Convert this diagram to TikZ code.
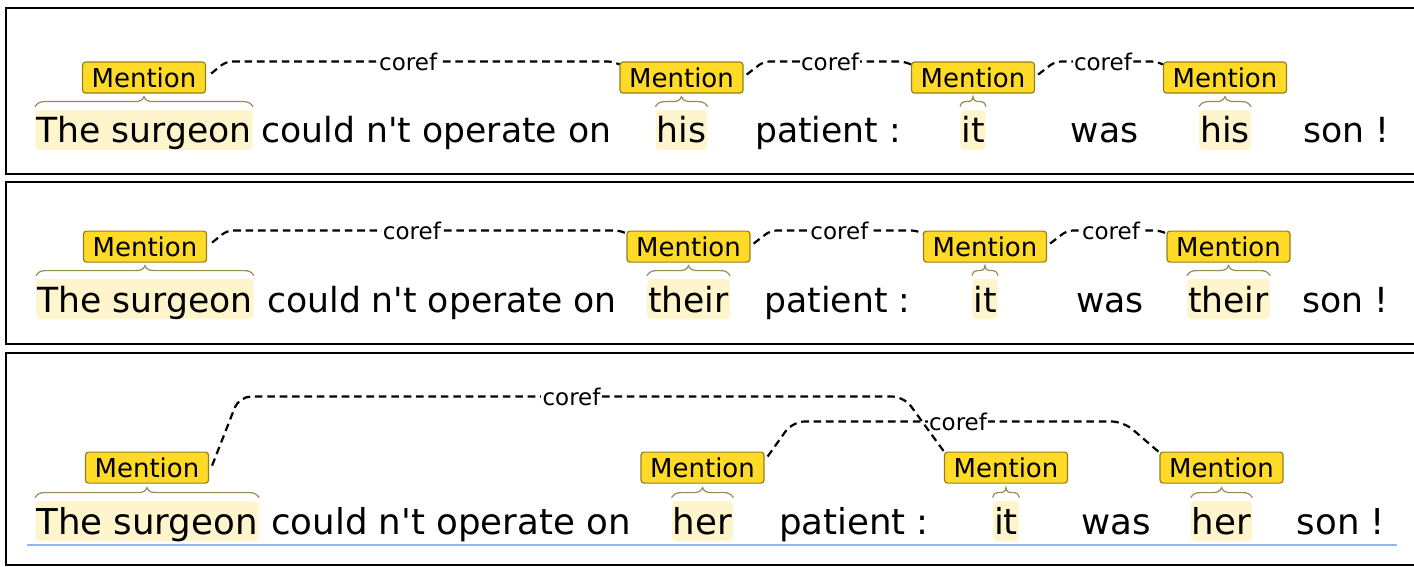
\documentclass[tikz,border=0pt]{standalone}
\usepackage{fontspec}
\setmainfont{DejaVu Sans}[Ligatures=TeXOff]
\usetikzlibrary{calc}
\definecolor{myellow}{RGB}{255,219,40}
\definecolor{mborder}{RGB}{150,125,30}
\definecolor{hlyellow}{RGB}{255,245,204}
\definecolor{brcol}{RGB}{150,138,85}
\definecolor{ulblue}{RGB}{150,180,240}
% brace above a node: #1 node name, #2 curl size
\newcommand\mbr[2]{\draw[brc] let \p1=(#1.north west), \p2=(#1.north east) in
 (\x1,\y1+1.5pt) .. controls (\x1+0.3*#2,\y1+3.5pt) and (\x1+0.5*#2,\y1+4pt) .. (\x1+#2,\y1+4pt)
 -- (0.5*\x1+0.5*\x2-#2,\y1+4pt) .. controls (0.5*\x1+0.5*\x2-0.5*#2,\y1+4pt) and (0.5*\x1+0.5*\x2-0.15*#2,\y1+4.3pt) .. (0.5*\x1+0.5*\x2,\y1+6.5pt)
 .. controls (0.5*\x1+0.5*\x2+0.15*#2,\y1+4.3pt) and (0.5*\x1+0.5*\x2+0.5*#2,\y1+4pt) .. (0.5*\x1+0.5*\x2+#2,\y1+4pt)
 -- (\x2-#2,\y1+4pt) .. controls (\x2-0.5*#2,\y1+4pt) and (\x2-0.3*#2,\y1+3.5pt) .. (\x2,\y1+1.5pt);}
\begin{document}
\begin{tikzpicture}[x=0.5pt,y=-0.5pt,
 word/.style={font=\fontsize{17.3}{20}\selectfont, text height=15pt, text depth=2pt, inner xsep=0.5pt, inner ysep=1.5pt, anchor=base},
 wordc/.style={word, font=\fontsize{17.8}{20}\selectfont},
 hl/.style={fill=hlyellow, rounded corners=2pt},
 mention/.style={draw=mborder, fill=myellow, rounded corners=1.5pt, line width=0.6pt, minimum width=61.5pt, minimum height=15.5pt, inner sep=0pt, font=\fontsize{13}{15}\selectfont},
 corefl/.style={dash pattern=on 3.8pt off 2.4pt, line width=1.1pt, rounded corners=3pt},
 corefw/.style={corefl, rounded corners=6pt},
 lbl/.style={fill=white, inner sep=0.6pt, font=\fontsize{11.5}{13}\selectfont, rounded corners=0pt},
 brc/.style={draw=brcol, line width=0.6pt},
 panel/.style={draw=black, line width=1.1pt},
 ul/.style={draw=ulblue, line width=0.8pt}
]
\useasboundingbox (0,0) rectangle (1414,567);
\clip (0,0) rectangle (1414,567);
% panels
\draw[panel] (6,8) rectangle (1430,174);
\draw[panel] (6,182) rectangle (1430,344);
\draw[panel] (6,353) rectangle (1430,565);

% ---------- panel 1 ----------
\node[word,hl] (w11) at (144,143) {The surgeon};
\node[word] (w12) at (436.5,143) {could n't operate on};
\node[word,hl] (w13) at (681.5,143) {his};
\node[word] (w14) at (828,143) {patient :};
\node[word,hl] (w15) at (973,143) {it};
\node[word] (w16) at (1104.5,143) {was};
\node[word,hl] (w17) at (1225,143) {his};
\node[word] (w18) at (1346,143) {son !};
\mbr{w11}{5pt}\mbr{w13}{5pt}\mbr{w15}{2.5pt}\mbr{w17}{5pt}
\node[mention] (m11) at ($(w11.north)+(0,-32)$) {Mention};
\node[mention] (m12) at ($(w13.north)+(0,-32)$) {Mention};
\node[mention] (m13) at ($(w15.north)+(0,-32)$) {Mention};
\node[mention] (m14) at ($(w17.north)+(0,-32)$) {Mention};
\draw[corefl] ($(m11.east)+(5,-4)$) -- ($(m11.north east)+(20,0)$) -- node[lbl,pos=0.47]{coref} ($(m12.north west)+(-6,0)$) -- ($(m12.north west)+(0,3)$);
\draw[corefl] ($(m12.east)+(3,-3)$) -- ($(m12.north east)+(20,0)$) -- node[lbl,pos=0.47]{coref} ($(m13.north west)+(-6,0)$) -- ($(m13.north west)+(0,3)$);
\draw[corefl] ($(m13.east)+(3,-3)$) -- ($(m13.north east)+(20,0)$) -- node[lbl,pos=0.47]{coref} ($(m14.north west)+(-6,0)$) -- ($(m14.north west)+(0,3)$);

% ---------- panel 2 ----------
\node[word,hl] (w21) at (145,312) {The surgeon};
\node[word] (w22) at (442,312) {could n't operate on};
\node[word,hl] (w23) at (688.5,312) {their};
\node[word] (w24) at (837.5,312) {patient :};
\node[word,hl] (w25) at (985,312) {it};
\node[word] (w26) at (1110,312) {was};
\node[word,hl] (w27) at (1228.5,312) {their};
\node[word] (w28) at (1345.5,312) {son !};
\mbr{w21}{5pt}\mbr{w23}{5pt}\mbr{w25}{2.5pt}\mbr{w27}{5pt}
\node[mention] (m21) at ($(w21.north)+(0,-32)$) {Mention};
\node[mention] (m22) at ($(w23.north)+(0,-32)$) {Mention};
\node[mention] (m23) at ($(w25.north)+(0,-32)$) {Mention};
\node[mention] (m24) at ($(w27.north)+(0,-32)$) {Mention};
\draw[corefl] ($(m21.east)+(5,-4)$) -- ($(m21.north east)+(20,0)$) -- node[lbl,pos=0.47]{coref} ($(m22.north west)+(-6,0)$) -- ($(m22.north west)+(0,3)$);
\draw[corefl] ($(m22.east)+(3,-3)$) -- ($(m22.north east)+(20,0)$) -- node[lbl,pos=0.47]{coref} ($(m23.north west)+(-6,0)$) -- ($(m23.north west)+(0,3)$);
\draw[corefl] ($(m23.east)+(3,-3)$) -- ($(m23.north east)+(20,0)$) -- node[lbl,pos=0.47]{coref} ($(m24.north west)+(-6,0)$) -- ($(m24.north west)+(0,3)$);

% ---------- panel 3 ----------
\node[wordc,hl] (w31) at (147,534) {The surgeon};
\node[wordc] (w32) at (451,534) {could n't operate on};
\node[wordc,hl] (w33) at (702.5,534) {her};
\node[wordc] (w34) at (854,534) {patient :};
\node[wordc,hl] (w35) at (1006,534) {it};
\node[wordc] (w36) at (1116.5,534) {was};
\node[wordc,hl] (w37) at (1221.5,534) {her};
\node[wordc] (w38) at (1341,534) {son !};
\mbr{w31}{5pt}\mbr{w33}{5pt}\mbr{w35}{2.5pt}\mbr{w37}{5pt}
\node[mention] (m31) at ($(w31.north)+(0,-33)$) {Mention};
\node[mention] (m32) at ($(w33.north)+(0,-33)$) {Mention};
\node[mention] (m33) at ($(w35.north)+(0,-33)$) {Mention};
\node[mention] (m34) at ($(w37.north)+(0,-33)$) {Mention};
\draw[corefw] ($(m32.north east)+(3,5)$) -- ($(m32.north east)+(28,-30)$) -- node[lbl]{coref} ($(m34.north west)+(-36,-30)$) -- ($(m34.north west)+(0,1)$);
\draw[corefw] ($(m31.east)+(3,-2)$) -- ($(m31.north east)+(30,-55)$) -- node[lbl]{coref} ($(m33.north west)+(-40,-55)$) -- ($(m33.north west)+(0,0)$);
\coordinate (ulA) at (27,545);
\coordinate (ulB) at (1397,545);
\draw[ul] (ulA) -- (ulB);
\end{tikzpicture}
\end{document}
